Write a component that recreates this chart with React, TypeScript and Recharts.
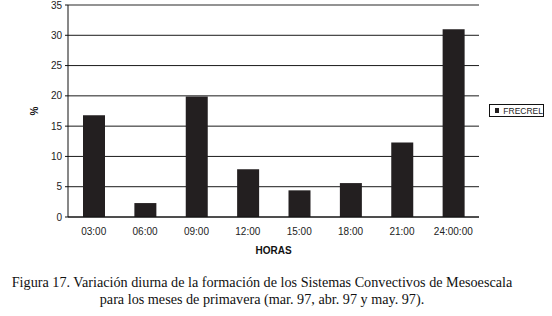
import React from 'react';
import {
  BarChart,
  Bar,
  XAxis,
  YAxis,
  CartesianGrid,
  ReferenceLine,
} from 'recharts';

const HOURS = ['03:00', '06:00', '09:00', '12:00', '15:00', '18:00', '21:00', '24:00:00'];
const FRECREL = [16.8, 2.3, 19.9, 7.9, 4.4, 5.6, 12.3, 31.0];
const Y_TICKS = [0, 5, 10, 15, 20, 25, 30, 35];
const BOUNDARY_TICKS = [0, 1, 2, 3, 4, 5, 6, 7, 8];

const data = HOURS.map((h, i) => ({ hora: h, FRECREL: FRECREL[i] }));

const axisFont = { fontFamily: 'Liberation Sans, Arial, sans-serif', fontSize: 10, fill: '#222' };

export default function App() {
  return (
    <div style={{ position: 'absolute', left: 0, top: 0, width: 552, height: 316, background: '#fff' }}>
      <BarChart
        width={552}
        height={262}
        data={data}
        margin={{ top: 5, right: 73, bottom: 0, left: 0 }}
      >
        <CartesianGrid horizontal vertical={false} stroke="#1a1a1a" strokeWidth={1} />
        <XAxis
          dataKey="hora"
          height={45}
          tickLine={false}
          axisLine={{ stroke: '#111' }}
          tick={axisFont}
          tickMargin={5}
          interval={0}
          label={{
            value: 'HORAS',
            position: 'insideBottom',
            offset: 8,
            style: { ...axisFont, fontWeight: 'bold', fill: '#111' },
          }}
        />
        <XAxis
          xAxisId="edges"
          type="number"
          domain={[0, 8]}
          ticks={BOUNDARY_TICKS}
          tick={false}
          tickSize={4}
          tickLine={{ stroke: '#111' }}
          axisLine={false}
          height={0}
        />
        <YAxis
          domain={[0, 35]}
          ticks={Y_TICKS}
          width={68}
          tickSize={3}
          tickMargin={3}
          tick={axisFont}
          tickLine={{ stroke: '#111' }}
          axisLine={{ stroke: '#111' }}
          label={{
            value: '%',
            angle: -90,
            position: 'center',
            style: { ...axisFont, fontWeight: 'bold', fill: '#111' },
          }}
        />
        <YAxis
          yAxisId="frame"
          orientation="right"
          domain={[0, 35]}
          width={0}
          tick={false}
          tickLine={false}
          axisLine={{ stroke: '#999' }}
        />
        <ReferenceLine y={35} stroke="#999" />
        <Bar dataKey="FRECREL" fill="#231f20" barSize={22} isAnimationActive={false} />
      </BarChart>

      <div
        style={{
          position: 'absolute',
          left: 489,
          top: 104,
          width: 55,
          height: 13,
          border: '1px solid #111',
          boxSizing: 'border-box',
          display: 'flex',
          alignItems: 'center',
          fontFamily: 'Liberation Sans, Arial, sans-serif',
          fontSize: 8.5,
          color: '#222',
        }}
      >
        <span style={{ display: 'inline-block', width: 5, height: 5, background: '#231f20', marginLeft: 5, marginRight: 4 }} />
        FRECREL
      </div>

      <div
        style={{
          position: 'absolute',
          left: 0,
          top: 274,
          width: 524,
          textAlign: 'center',
          fontFamily: 'Liberation Serif, Times New Roman, serif',
          fontSize: 14.2,
          lineHeight: '17px',
          color: '#111',
        }}
      >
        Figura 17. Variación diurna de la formación de los Sistemas Convectivos de Mesoescala
        <br />
        para los meses de primavera (mar. 97, abr. 97 y may. 97).
      </div>
    </div>
  );
}
